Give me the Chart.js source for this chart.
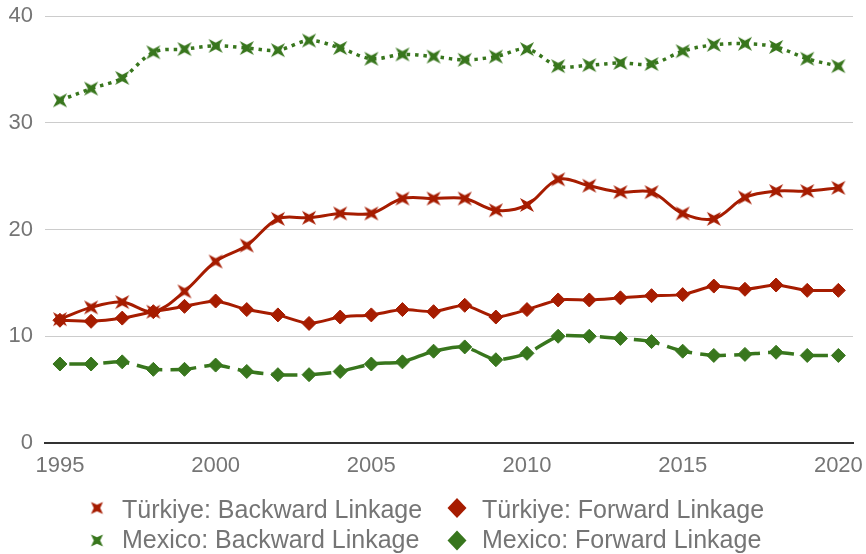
<!DOCTYPE html>
<html>
<head>
<meta charset="utf-8">
<script src="https://cdn.jsdelivr.net/npm/chart.js@4/dist/chart.umd.min.js"></script>
<style>
  html, body { margin: 0; padding: 0; background: #ffffff; }
  #wrap { width: 866px; height: 554px; }
</style>
</head>
<body>
<div id="wrap"><canvas id="c" width="866" height="554"></canvas></div>
<script>
// Years on the horizontal axis
const years = [1995, 1996, 1997, 1998, 1999, 2000, 2001, 2002, 2003, 2004, 2005, 2006, 2007,
               2008, 2009, 2010, 2011, 2012, 2013, 2014, 2015, 2016, 2017, 2018, 2019, 2020];

// GVC participation shares (%)
const turkiyeBackward = [11.6, 12.7, 13.2, 12.3, 14.2, 17.0, 18.5, 21.0, 21.1, 21.5, 21.5, 22.9, 22.9,
                         22.9, 21.8, 22.3, 24.7, 24.1, 23.5, 23.5, 21.5, 21.0, 23.0, 23.6, 23.6, 23.9];
const turkiyeForward  = [11.5, 11.4, 11.7, 12.3, 12.8, 13.3, 12.5, 12.0, 11.2, 11.8, 12.0, 12.5, 12.3,
                         12.9, 11.8, 12.5, 13.4, 13.4, 13.6, 13.8, 13.9, 14.7, 14.4, 14.8, 14.3, 14.3];
const mexicoBackward  = [32.1, 33.2, 34.2, 36.6, 36.9, 37.2, 37.0, 36.8, 37.7, 37.0, 36.0, 36.4, 36.2,
                         35.9, 36.2, 36.9, 35.3, 35.4, 35.6, 35.5, 36.7, 37.3, 37.4, 37.1, 36.0, 35.3];
const mexicoForward   = [7.4, 7.4, 7.6, 6.9, 6.9, 7.3, 6.7, 6.4, 6.4, 6.7, 7.4, 7.6, 8.6,
                         9.0, 7.8, 8.4, 10.0, 10.0, 9.8, 9.5, 8.6, 8.2, 8.3, 8.5, 8.2, 8.2];

// Axis ticks
const xTicks = [1995, 2000, 2005, 2010, 2015, 2020];
const yTicks = [0, 10, 20, 30, 40];

const RED = '#a61c00';
const GREEN = '#38761d';
const TEXT = '#757575';
const FONT = '"Liberation Sans", Arial, sans-serif';

// Four-armed "x" star used as a marker
function starIcon(color, outer, inner) {
  const size = Math.ceil(outer * 2 + 2);
  const c = document.createElement('canvas');
  c.width = c.height = size;
  const g = c.getContext('2d');
  const m = size / 2;
  g.fillStyle = color;
  g.beginPath();
  for (let k = 0; k < 8; k++) {
    const a = Math.PI / 4 + k * Math.PI / 4;
    const r = k % 2 === 0 ? outer : inner;
    const px = m + r * Math.cos(a), py = m + r * Math.sin(a);
    if (k === 0) g.moveTo(px, py); else g.lineTo(px, py);
  }
  g.closePath();
  g.fill();
  return c;
}

function toPoints(values) {
  return years.map((y, i) => ({ x: y, y: values[i] }));
}

// Legend drawn beneath the plot in a two-column grid
const gridLegend = {
  id: 'gridLegend',
  afterDraw(chart) {
    const ctx = chart.ctx;
    const colX = [97, 457];
    const markY = [508, 540.5];
    const baseY = [517.5, 547.5];
    ctx.save();
    ctx.font = '25px ' + FONT;
    ctx.textBaseline = 'alphabetic';
    ctx.textAlign = 'left';
    chart.data.datasets.forEach((ds, i) => {
      const col = i % 2, row = Math.floor(i / 2);
      const mx = colX[col], my = markY[row];
      if (ds.legendShape === 'star') {
        const icon = starIcon(ds.borderColor, 8.5, 3.2);
        ctx.drawImage(icon, mx - icon.width / 2, my - icon.height / 2);
      } else {
        ctx.fillStyle = ds.borderColor;
        ctx.beginPath();
        ctx.moveTo(mx, my - 10);
        ctx.lineTo(mx + 9.5, my);
        ctx.lineTo(mx, my + 10);
        ctx.lineTo(mx - 9.5, my);
        ctx.closePath();
        ctx.fill();
      }
      ctx.fillStyle = TEXT;
      ctx.fillText(ds.label, mx + 25, baseY[row]);
    });
    ctx.restore();
  }
};

const redStar = starIcon(RED, 10, 3.2);
const greenStar = starIcon(GREEN, 10, 3.2);

new Chart(document.getElementById('c'), {
  type: 'line',
  data: {
    datasets: [
      {
        label: 'Türkiye: Backward Linkage',
        data: toPoints(turkiyeBackward),
        borderColor: RED, backgroundColor: RED,
        borderWidth: 3, tension: 0.35,
        pointStyle: redStar, legendShape: 'star'
      },
      {
        label: 'Türkiye: Forward Linkage',
        data: toPoints(turkiyeForward),
        borderColor: RED, backgroundColor: RED,
        borderWidth: 3, tension: 0.2,
        pointStyle: 'rectRot', pointRadius: 7, pointBorderWidth: 1,
        pointBackgroundColor: RED, pointBorderColor: RED, legendShape: 'diamond'
      },
      {
        label: 'Mexico: Backward Linkage',
        data: toPoints(mexicoBackward),
        borderColor: GREEN, backgroundColor: GREEN,
        borderWidth: 3.5, borderDash: [3.5, 5], borderCapStyle: 'butt', tension: 0.35,
        pointStyle: greenStar, legendShape: 'star'
      },
      {
        label: 'Mexico: Forward Linkage',
        data: toPoints(mexicoForward),
        borderColor: GREEN, backgroundColor: GREEN,
        borderWidth: 3.5, borderDash: [26, 8], borderDashOffset: 24.5, borderCapStyle: 'butt', tension: 0.2,
        pointStyle: 'rectRot', pointRadius: 7, pointBorderWidth: 1,
        pointBackgroundColor: GREEN, pointBorderColor: GREEN, legendShape: 'diamond'
      }
    ]
  },
  options: {
    responsive: false,
    animation: false,
    events: [],
    layout: { padding: { top: 16, right: 13, bottom: 0, left: 0 } },
    plugins: {
      legend: { display: false },
      tooltip: { enabled: false }
    },
    scales: {
      x: {
        type: 'linear',
        min: 1994.52,
        max: 2020.47,
        afterBuildTicks: s => { s.ticks = xTicks.map(v => ({ value: v })); },
        afterFit: s => { s.height = 111; s.paddingLeft = 0; s.paddingRight = 0; },
        grid: { display: false, drawTicks: false },
        border: { display: true, color: '#333333', width: 2 },
        ticks: {
          padding: 10,
          maxRotation: 0,
          autoSkip: false,
          color: TEXT,
          font: { family: FONT, size: 22 },
          callback: v => String(v)
        }
      },
      y: {
        min: 0,
        max: 40,
        afterBuildTicks: s => { s.ticks = yTicks.map(v => ({ value: v })); },
        afterFit: s => { s.width = 45; s.paddingTop = 0; s.paddingBottom = 0; },
        grid: {
          drawTicks: false,
          color: c => (c.tick && c.tick.value === 0) ? 'rgba(0,0,0,0)' : '#cccccc',
          lineWidth: 1
        },
        border: { display: false },
        ticks: {
          padding: 12,
          color: TEXT,
          font: { family: FONT, size: 22 },
          callback: v => String(v)
        }
      }
    }
  },
  plugins: [gridLegend]
});
</script>
</body>
</html>
